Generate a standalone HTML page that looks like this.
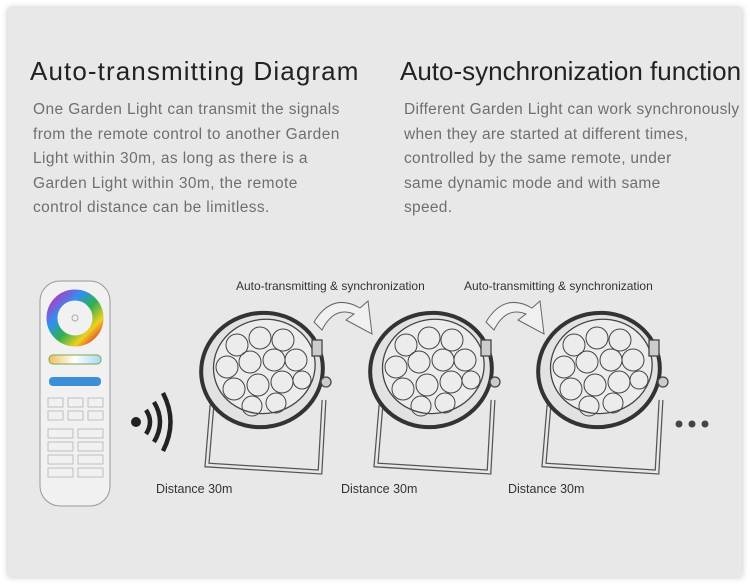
<!DOCTYPE html>
<html><head><style>
body{margin:0;width:750px;height:585px;background:#fff;overflow:hidden;font-family:"Liberation Sans",sans-serif}
#p{position:absolute;left:8px;top:8px;width:734px;height:569px;background:#e8e8e8;box-shadow:0 0 6px rgba(0,0,0,.25)}
.t{position:absolute;font-size:26px;color:#222;white-space:nowrap;letter-spacing:1.1px}
.b{position:absolute;font-size:15.5px;line-height:24.5px;color:#6f6f6f;white-space:nowrap;letter-spacing:0.4px}
.s{position:absolute;font-size:12px;color:#333;white-space:nowrap}
.d{position:absolute;font-size:12.5px;color:#333;white-space:nowrap}
</style></head><body>
<div id="p"></div>
<div class="t" style="left:30px;top:56px">Auto-transmitting Diagram</div>
<div class="t" style="left:400px;top:56px;letter-spacing:0px">Auto-synchronization function</div>
<div class="b" style="left:33px;top:98px">One Garden Light can transmit the signals<br>from the remote control to another Garden<br>Light within 30m, as long as there is a<br>Garden Light within 30m, the remote<br>control distance can be limitless.</div>
<div class="b" style="left:404px;top:98px;letter-spacing:0.3px">Different Garden Light can work synchronously<br>when they are started at different times,<br>controlled by the same remote, under<br>same dynamic mode and with same<br>speed.</div>
<div class="s" style="left:236px;top:279px">Auto-transmitting &amp; synchronization</div>
<div class="s" style="left:464px;top:279px">Auto-transmitting &amp; synchronization</div>
<div class="d" style="left:156px;top:482px">Distance 30m</div>
<div class="d" style="left:341px;top:482px">Distance 30m</div>
<div class="d" style="left:508px;top:482px">Distance 30m</div>
<svg width="750" height="585" style="position:absolute;left:0;top:0">
<defs>
<linearGradient id="cw" x1="0" x2="1"><stop offset="0" stop-color="#f0c060"/><stop offset=".5" stop-color="#fff"/><stop offset="1" stop-color="#a8d8f0"/></linearGradient>
<linearGradient id="rb" x1="0" y1="0" x2="1" y2="1"><stop offset="0" stop-color="#c030c0"/><stop offset=".3" stop-color="#3090f0"/><stop offset=".55" stop-color="#30b050"/><stop offset=".8" stop-color="#f0d020"/><stop offset="1" stop-color="#e03030"/></linearGradient>
<g id="L" fill="none" stroke="#444" stroke-width="1.3">
<path d="M-50 35 L-55 95 L58 102 L62 30" stroke-width="5" stroke="#555"/>
<path d="M-50 35 L-55 95 L58 102 L62 30" stroke-width="2.5" stroke="#e8e8e8"/>
<ellipse cx="0" cy="0" rx="61" ry="57" transform="rotate(-12)" fill="#e2e2e2" stroke="#333" stroke-width="4"/>
<ellipse cx="3" cy="-3" rx="51" ry="47" transform="rotate(-12)" fill="#ececec"/>
<g stroke-width="1">
<circle cx="-25" cy="-25" r="11"/><circle cx="-2" cy="-32" r="11"/><circle cx="21" cy="-30" r="11"/>
<circle cx="-35" cy="-3" r="11"/><circle cx="-12" cy="-8" r="11"/><circle cx="12" cy="-10" r="11"/><circle cx="34" cy="-10" r="11"/>
<circle cx="-28" cy="19" r="11"/><circle cx="-4" cy="15" r="11"/><circle cx="20" cy="12" r="11"/><circle cx="40" cy="10" r="9"/>
<circle cx="-10" cy="36" r="10"/><circle cx="14" cy="33" r="10"/>
</g>
<circle cx="64" cy="12" r="5" fill="#ccc"/>
<rect x="50" y="-30" width="10" height="16" fill="#ccc"/>
</g>
</defs>
<use href="#L" x="262" y="370"/>
<use href="#L" x="431" y="370"/>
<use href="#L" x="599" y="370"/>
<g fill="#f0f0f0" stroke="#666" stroke-width="1">
<path d="M314 322 Q332 292 360 308 L368 301 L372 334 L346 320 L354 314 Q334 306 322 330 Z"/>
<path d="M486 322 Q504 292 532 308 L540 301 L544 334 L518 320 L526 314 Q506 306 494 330 Z"/>
</g>
<g fill="#444"><circle cx="679" cy="424" r="3.5"/><circle cx="692" cy="424" r="3.5"/><circle cx="705" cy="424" r="3.5"/></g>
<circle cx="136" cy="422" r="5" fill="#222"/>
<g fill="none" stroke="#222" stroke-width="4.5">
<path d="M146 410 Q154 422 146 434"/><path d="M154 402 Q166 422 154 442"/><path d="M163 393 Q178 422 163 451"/>
</g>
<rect x="40" y="281" width="70" height="225" rx="20" fill="#f1f1f1" stroke="#999"/>
<circle cx="75" cy="318" r="23" fill="none" stroke="url(#rb)" stroke-width="11"/>
<circle cx="75" cy="318" r="3" fill="none" stroke="#aaa"/>
<rect x="49" y="355" width="52" height="9" rx="4" fill="url(#cw)" stroke="#7a5"/>
<rect x="49" y="377" width="52" height="9" rx="4" fill="#3a8fd8"/>
<g fill="none" stroke="#aaa" stroke-width=".7">
<rect x="48" y="398" width="15" height="9"/><rect x="68" y="398" width="15" height="9"/><rect x="88" y="398" width="15" height="9"/>
<rect x="48" y="411" width="15" height="9"/><rect x="68" y="411" width="15" height="9"/><rect x="88" y="411" width="15" height="9"/>
<rect x="48" y="429" width="25" height="9"/><rect x="78" y="429" width="25" height="9"/>
<rect x="48" y="442" width="25" height="9"/><rect x="78" y="442" width="25" height="9"/>
<rect x="48" y="455" width="25" height="9"/><rect x="78" y="455" width="25" height="9"/>
<rect x="48" y="468" width="25" height="9"/><rect x="78" y="468" width="25" height="9"/>
</g>
</svg>
</body></html>
